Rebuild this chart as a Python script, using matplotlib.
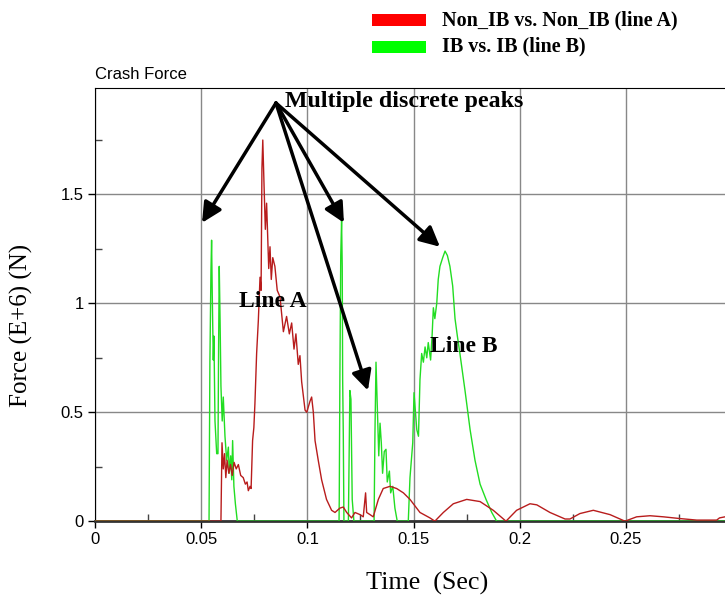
import matplotlib
matplotlib.use("Agg")
import matplotlib.pyplot as plt
from matplotlib.patches import Rectangle
from matplotlib.ticker import MultipleLocator

# line A: Non_IB vs. Non_IB
red_time = [0.0, 0.0593, 0.0598, 0.0604, 0.0610, 0.0616, 0.0622, 0.0630, 0.0638, 0.0646,
            0.0655, 0.0665, 0.0675, 0.0686, 0.0698, 0.0708, 0.0716, 0.0722, 0.0730, 0.0735,
            0.0742, 0.0748, 0.0753, 0.0761, 0.0769, 0.0777, 0.0782, 0.0786, 0.0790, 0.0796,
            0.0802, 0.0808, 0.0818, 0.0824, 0.0830, 0.0837, 0.0847, 0.0858, 0.0871, 0.0887,
            0.0902, 0.0915, 0.0926, 0.0937, 0.0946, 0.0957, 0.0965, 0.0973, 0.0989, 0.0997,
            0.1012, 0.1020, 0.1028, 0.1036, 0.1051, 0.1067, 0.1090, 0.1114, 0.1130, 0.1153,
            0.1169, 0.1185, 0.1208, 0.1224, 0.1248, 0.1263, 0.1274, 0.1279, 0.1295, 0.1310,
            0.1334, 0.1357, 0.1389, 0.1420, 0.1452, 0.1483, 0.1530, 0.1577, 0.1600, 0.1640,
            0.1687, 0.1750, 0.1813, 0.1875, 0.1935, 0.1985, 0.2048, 0.2080, 0.2142, 0.2213,
            0.2236, 0.2283, 0.2346, 0.2425, 0.2495, 0.2550, 0.2613, 0.2676, 0.2754, 0.2833,
            0.2927, 0.2940, 0.2966]
red_force = [0.0, 0.0, 0.36, 0.24, 0.31, 0.20, 0.28, 0.22, 0.26, 0.21,
             0.27, 0.24, 0.26, 0.21, 0.20, 0.17, 0.18, 0.14, 0.16, 0.15,
             0.37, 0.43, 0.54, 0.77, 0.92, 1.12, 1.06, 1.62, 1.75, 1.54,
             1.34, 1.46, 1.16, 1.26, 1.11, 1.21, 1.17, 1.06, 1.03, 0.87,
             0.94, 0.86, 0.91, 0.79, 0.86, 0.72, 0.76, 0.64, 0.51, 0.50,
             0.55, 0.57, 0.50, 0.37, 0.28, 0.19, 0.10, 0.05, 0.04, 0.06,
             0.065, 0.04, 0.015, 0.04, 0.03, 0.02, 0.13, 0.04, 0.03, 0.02,
             0.10, 0.15, 0.16, 0.15, 0.13, 0.10, 0.04, 0.015, 0.0, 0.04,
             0.08, 0.10, 0.09, 0.05, 0.0, 0.05, 0.08, 0.075, 0.04, 0.01,
             0.01, 0.035, 0.05, 0.03, 0.0, 0.02, 0.025, 0.02, 0.012, 0.005,
             0.005, 0.015, 0.02]

# line B: IB vs. IB
green_time = [0.0, 0.0537, 0.0541, 0.0546, 0.0549, 0.0552, 0.0554, 0.0557, 0.0560, 0.0565,
              0.0573, 0.0579, 0.0582, 0.0585, 0.0589, 0.0593, 0.0599, 0.0604, 0.0612, 0.0620,
              0.0628, 0.0632, 0.0639, 0.0644, 0.0648, 0.0654, 0.0661, 0.0670,
              0.1149, 0.1150, 0.1153, 0.1157, 0.1161, 0.1164, 0.1166, 0.1169, 0.1172, 0.1193,
              0.1200, 0.1205, 0.1211, 0.1219, 0.1314, 0.1318, 0.1323, 0.1329, 0.1336, 0.1342,
              0.1348, 0.1354, 0.1362, 0.1370, 0.1376, 0.1386, 0.1392, 0.1402, 0.1412, 0.1423,
              0.1475, 0.1483, 0.1496, 0.1502, 0.1508, 0.1515, 0.1523, 0.1530, 0.1538, 0.1546,
              0.1554, 0.1562, 0.1569, 0.1580, 0.1587, 0.1593, 0.1600, 0.1609, 0.1616, 0.1624,
              0.1637, 0.1648, 0.1659, 0.1671, 0.1684, 0.1695, 0.1706, 0.1718, 0.1742, 0.1766,
              0.1789, 0.1813, 0.1841, 0.1868, 0.1891, 0.2966]
green_force = [0.0, 0.0, 0.73, 1.15, 1.29, 1.05, 0.92, 0.74, 0.85, 0.46,
               0.31, 0.31, 0.80, 1.17, 0.92, 0.62, 0.46, 0.57, 0.39, 0.28,
               0.34, 0.22, 0.30, 0.19, 0.37, 0.16, 0.08, 0.0,
               0.0, 0.10, 0.66, 1.22, 1.38, 1.17, 0.65, 0.40, 0.0, 0.0,
               0.60, 0.56, 0.10, 0.0, 0.0, 0.40, 0.73, 0.53, 0.30, 0.45,
               0.36, 0.22, 0.32, 0.33, 0.18, 0.23, 0.13, 0.16, 0.06, 0.0,
               0.0, 0.20, 0.36, 0.59, 0.51, 0.42, 0.39, 0.65, 0.77, 0.73,
               0.80, 0.75, 0.82, 0.74, 0.85, 0.98, 0.93, 1.00, 1.11, 1.17,
               1.21, 1.24, 1.22, 1.17, 1.08, 0.93, 0.85, 0.77, 0.60, 0.42,
               0.28, 0.17, 0.10, 0.04, 0.0, 0.0]

x_ticks = [0, 0.05, 0.1, 0.15, 0.2, 0.25]
x_tick_labels = ["0", "0.05", "0.1", "0.15", "0.2", "0.25"]
y_ticks = [0, 0.5, 1, 1.5]
y_tick_labels = ["0", "0.5", "1", "1.5"]

# annotation arrows: origin and the peaks they point to
arrow_origin = (0.0852, 1.92)
arrow_tips = [(0.0504, 1.37), (0.1172, 1.37), (0.1285, 0.60), (0.1624, 1.26)]

serif = "Liberation Serif"
sans = "Liberation Sans"

fig = plt.figure(figsize=(7.25, 5.97), dpi=100)
ax = fig.add_axes([0.131, 0.127, 0.869, 0.726])

ax.plot(green_time, green_force, color="#22dd22", lw=1.0, zorder=3)
ax.plot(red_time, red_force, color="#b81c1c", lw=1.0, zorder=4)

ax.set_xlim(0, 0.2966)
ax.set_ylim(0, 1.99)
ax.set_xticks(x_ticks)
ax.set_xticklabels(x_tick_labels, fontfamily=sans, fontsize=12)
ax.set_yticks(y_ticks)
ax.set_yticklabels(y_tick_labels, fontfamily=sans, fontsize=12)
ax.xaxis.set_minor_locator(MultipleLocator(0.025))
ax.yaxis.set_minor_locator(MultipleLocator(0.25))
ax.tick_params(which="major", direction="out", length=5, width=1, pad=3)
ax.tick_params(which="minor", direction="in", length=5, width=1, color="#444444")
ax.grid(True, which="major", color="#888888", lw=1.0)
ax.set_axisbelow(True)
ax.spines["right"].set_visible(False)
ax.spines["bottom"].set_color("#333333")
ax.spines["bottom"].set_linewidth(2)

ax.set_title("Crash Force", loc="left", fontfamily=sans, fontsize=12, pad=6)

fig.text(0.03, 0.4556, "Force (E+6) (N)", rotation=90, ha="center", va="center",
         fontfamily=serif, fontsize=18)
fig.text(0.589, 0.0235, "Time  (Sec)", ha="center", va="center",
         fontfamily=serif, fontsize=18.8)

ax.text(0.1455, 1.928, "Multiple discrete peaks", ha="center", va="center",
        fontfamily=serif, fontweight="bold", fontsize=17.2, zorder=6)
ax.text(0.0838, 1.008, "Line A", ha="center", va="center",
        fontfamily=serif, fontweight="bold", fontsize=17, zorder=6)
ax.text(0.1734, 0.80, "Line B", ha="center", va="center",
        fontfamily=serif, fontweight="bold", fontsize=17, zorder=6)

for tip in arrow_tips:
    ax.annotate("", xy=tip, xytext=arrow_origin,
                arrowprops=dict(arrowstyle="-|>", color="black", lw=2.5,
                                mutation_scale=30, shrinkA=0, shrinkB=0),
                zorder=7)

# legend drawn at top
fig.patches.append(Rectangle((0.513, 0.9564), 0.0745, 0.0201, transform=fig.transFigure,
                             facecolor="#ff0000", edgecolor="none"))
fig.patches.append(Rectangle((0.513, 0.9117), 0.0745, 0.0201, transform=fig.transFigure,
                             facecolor="#00ff00", edgecolor="none"))
fig.text(0.609, 0.9665, "Non_IB vs. Non_IB (line A)", ha="left", va="center",
         fontfamily=serif, fontweight="bold", fontsize=14.5)
fig.text(0.609, 0.922, "IB vs. IB (line B)", ha="left", va="center",
         fontfamily=serif, fontweight="bold", fontsize=14.5)

fig.savefig("out.png", dpi=100)
plt.close(fig)
